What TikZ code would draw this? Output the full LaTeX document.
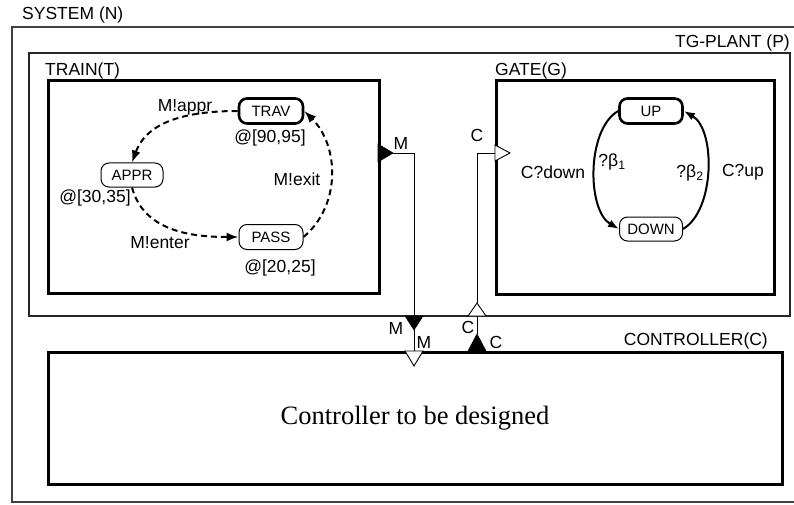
\documentclass[tikz,border=0pt]{standalone}
\usepackage{fontspec}
\setmainfont{Liberation Sans}
\newfontfamily\seriffont{Liberation Serif}
\usetikzlibrary{arrows.meta}
\begin{document}
\begin{tikzpicture}[x=1pt,y=-1pt,
  lbl/.style={font=\fontsize{17.5}{20}\selectfont, inner sep=0pt},
  state/.style={draw, rounded corners=8pt, minimum width=63pt, minimum height=25pt, inner sep=0pt, font=\fontsize{15}{17}\selectfont, line width=1pt},
  initstate/.style={state, line width=2.6pt},
  bigbox/.style={draw, line width=3pt, inner sep=0pt, anchor=north west},
  tedge/.style={dash pattern=on 6pt off 4pt, line width=2pt, -{Latex[length=12pt,width=9pt]}},
  gedge/.style={line width=2pt, -{Latex[length=11pt,width=8pt]}},
  portline/.style={line width=0.9pt},
  filltri/.style={fill=black, draw=black, line width=0.6pt},
  opentri/.style={fill=white, draw=black, line width=0.9pt},
  ]
\useasboundingbox (0,0) rectangle (794,505);
\clip (0,0) rectangle (794,505);

% SYSTEM box
\draw[line width=1.4pt, black!75] (12,27) rectangle (820,502);
\node[lbl, anchor=west] (sysl) at (22,15) {SYSTEM (N)};

% TG-PLANT box
\draw[line width=1.5pt, black!85] (29,53) rectangle (790,316);
\node[lbl, anchor=east] (plantl) at (790,43) {TG-PLANT (P)};

% TRAIN box
\node[bigbox, minimum width=331pt, minimum height=213pt] (train) at (47,79) {};
\node[lbl, anchor=south west] (trainl) at (45,79) {TRAIN(T)};

% GATE box
\node[bigbox, minimum width=278pt, minimum height=214pt] (gate) at (495,79) {};
\node[lbl, anchor=south west] (gatel) at (495,79) {GATE(G)};

% CONTROLLER box
\node[bigbox, minimum width=734pt, minimum height=132pt] (ctrl) at (47,351) {};
\node[lbl, anchor=south east] (ctrll) at (768,349) {CONTROLLER(C)};
\node[font=\seriffont\fontsize{26.5}{30}\selectfont, inner sep=0pt] (ctrlt) at (415,418) {Controller to be designed};

% Train automaton
\node[initstate, minimum width=64pt] (trav) at (271,111) {TRAV};
\node[state, minimum width=62pt, minimum height=24pt] (appr) at (132,175) {APPR};
\node[state, minimum width=64pt] (pass) at (271,237) {PASS};
\draw[tedge] (trav.west) to[out=180,in=70] (appr.north);
\draw[tedge] (appr.south) to[out=-75,in=180] (pass.west);
\draw[tedge] (pass.east) to[out=40,in=-45] (trav.east);
\node[lbl] (lappr) at (185,107) {M!appr};
\node[lbl] (ltrav) at (270,138) {@[90,95]};
\node[lbl] (lappr2) at (95,198) {@[30,35]};
\node[lbl] (lexit) at (297,179) {M!exit};
\node[lbl] (lenter) at (160,243) {M!enter};
\node[lbl] (lpass) at (280,268) {@[20,25]};

% Gate automaton
\node[initstate] (up) at (651,111) {UP};
\node[state, minimum height=24pt] (down) at (651,229) {DOWN};
\draw[gedge] (up.west) to[out=210,in=150,looseness=0.8] (down.west);
\draw[gedge] (down.east) to[out=30,in=-30,looseness=0.8] (up.east);
\node[lbl] (ldown) at (553,172) {C?down};
\node[lbl] (lb1) at (612,162) {?β\textsubscript{1}};
\node[lbl] (lb2) at (690,173) {?β\textsubscript{2}};
\node[lbl] (lup) at (743,172) {C?up};

% Ports: M
\coordinate (mtip) at (393,153);
\coordinate (mcorner) at (414,153);
\coordinate (mplant) at (414,316);
\coordinate (mptip) at (414,330);
\coordinate (mctrl) at (414,351);
\draw[filltri] (378,144) -- (mtip) -- (378,162) -- cycle;
\draw[portline] (mtip) -- (mcorner) -- (mplant);
\draw[filltri] (405,316) -- (mptip) -- (423,316) -- cycle;
\draw[portline] (mptip) -- (mctrl);
\draw[opentri] (405,351) -- (414,366) -- (423,351) -- cycle;
\node[lbl] (lm1) at (401,143) {M};
\node[lbl] (lm2) at (396,328) {M};
\node[lbl] (lm3) at (424,342) {M};

% Ports: C
\coordinate (cgate) at (495,153);
\coordinate (ccorner) at (477,153);
\coordinate (capex) at (477,303);
\coordinate (cplant) at (477,316);
\coordinate (cfapex) at (477,334);
\draw[portline] (capex) -- (ccorner) -- (cgate);
\draw[opentri] (495,145) -- (510,153) -- (495,161) -- cycle;
\draw[opentri] (468,316) -- (capex) -- (486,316) -- cycle;
\draw[portline] (cplant) -- (cfapex);
\draw[filltri] (468,351) -- (cfapex) -- (486,351) -- cycle;
\node[lbl] (lc1) at (477,135) {C};
\node[lbl] (lc2) at (468,327) {C};
\node[lbl] (lc3) at (496,342) {C};
\end{tikzpicture}
\end{document}
